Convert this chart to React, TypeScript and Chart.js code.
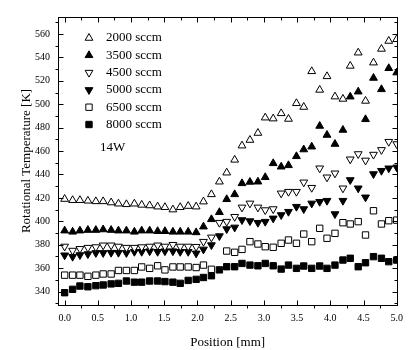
import React, { useEffect, useRef } from "react";
import { Chart, registerables } from "chart.js";

Chart.register(...registerables);

// Position along the axis [mm]
const positions = [
  0, 0.12, 0.23, 0.35, 0.47, 0.58, 0.7, 0.81, 0.93, 1.05, 1.16, 1.28, 1.4, 1.51, 1.63,
  1.74, 1.86, 1.98, 2.09, 2.21, 2.33, 2.44, 2.56, 2.67, 2.79, 2.91, 3.02, 3.14, 3.26,
  3.37, 3.49, 3.6, 3.72, 3.84, 3.95, 4.07, 4.19, 4.3, 4.42, 4.53, 4.65, 4.77, 4.88, 5.0,
];

// Rotational temperature [K] per flow rate
const flow2000 = [
  419, 418, 418, 417.5, 417, 417, 416, 415, 414.5, 415, 414, 413.5, 412.5, 412, 410, 412,
  413, 412.5, 416.8, 423, 433.8, 441.5, 452.5, 464.6, 469.4, 475.4, 488.5, 487.7, 492.2,
  487.4, 500.8, 497.6, 528.1, 512.2, 523.8, 506.5, 504.5, 532.7, 544, 502.8, 535.5, 547.2,
  554, 555.5,
];
const flow3500 = [
  392, 391, 392, 392.5, 392.5, 393, 392.5, 392, 392, 391, 392, 392, 391.5, 391.5, 391, 391,
  391, 390.5, 395.4, 401.7, 407.7, 418.8, 423, 432.4, 433.6, 433.8, 437.6, 449.5, 446.6,
  447.8, 455.5, 461.3, 463.7, 481.4, 473.7, 466, 478, 506.4, 510.7, 487.1, 522.4, 512.7,
  530.7, 527,
];
const flow4500 = [
  378.5, 375, 376.5, 377.5, 378, 379.5, 379.5, 378.5, 377.5, 377.5, 378, 378.5, 379.5,
  378.5, 380, 378.5, 378.5, 378.3, 382.6, 386.3, 398.8, 399.7, 403.9, 411.9, 415.3, 411.9,
  409.6, 410.5, 423.9, 425.3, 425.3, 433.3, 428.7, 445.3, 437.6, 441, 428.2, 453, 457.5,
  452, 457, 461, 468, 466,
];
const flow5000 = [
  371, 369.8, 371.2, 372, 373, 373, 373.2, 373.2, 373, 374, 374, 374.5, 374, 374.5, 374.5,
  374, 374, 372.6, 376, 379.7, 387.4, 393.4, 394.8, 401.1, 400.2, 398.8, 399.7, 402.5,
  405.4, 408.2, 412.5, 410.5, 415.3, 416.7, 417.6, 406.2, 417.6, 435.3, 428.2, 420.5,
  440.4, 443.2, 445.3, 446.1,
];
const flow6500 = [
  354, 354, 354, 353, 354, 355, 355, 358, 358, 358, 361, 359.8, 362, 358.5, 361, 361, 361,
  360.5, 362.6, 359, null, 374.6, 373.5, 376, 382.6, 380.6, 378.3, 377.8, 381.2, 384,
  381.2, 389.1, 382.6, 394, 385.5, 389.7, 398.8, 397.7, 399.7, 388.3, 409, 397.7, 400.5,
  401,
];
const flow8000 = [
  339, 341.9, 344.7, 344.1, 345, 345.6, 346.5, 347, 349, 348, 348, 349, 349, 348.5, 348,
  347, 349.5, 350.4, 352, 353.5, 358.5, 361.2, 361.2, 364, 362.6, 362, 364, 362, 359.2,
  362.6, 359.8, 361.8, 359.8, 361.8, 359.8, 362.6, 366.9, 368.4, 361.2, 364.6, 369.8,
  368.4, 365.5, 366.9,
];

const seriesLabels = ["2000 sccm", "3500 sccm", "4500 sccm", "5000 sccm", "6500 sccm", "8000 sccm"];
const yTickValues = [340, 360, 380, 400, 420, 440, 460, 480, 500, 520, 540, 560];
const yMinorValues = [330, 350, 370, 390, 410, 430, 450, 470, 490, 510, 530, 550, 570];
const xTickValues = [0, 0.5, 1, 1.5, 2, 2.5, 3, 3.5, 4, 4.5, 5];
const xMinorValues = [0.25, 0.75, 1.25, 1.75, 2.25, 2.75, 3.25, 3.75, 4.25, 4.75];
const powerLabel = "14W";
const xTitle = "Position [mm]";
const yTitle = "Rotational Temperature [K]";

const FONT = "'Liberation Serif', 'Times New Roman', serif";

type Marker = { style: string; rotation: number; filled: boolean };
const markers: Marker[] = [
  { style: "triangle", rotation: 0, filled: false },
  { style: "triangle", rotation: 0, filled: true },
  { style: "triangle", rotation: 180, filled: false },
  { style: "triangle", rotation: 180, filled: true },
  { style: "rect", rotation: 0, filled: false },
  { style: "rect", rotation: 0, filled: true },
];
const allSeries = [flow2000, flow3500, flow4500, flow5000, flow6500, flow8000];
const R = 4.5;

function drawMarker(ctx: CanvasRenderingContext2D, m: Marker, x: number, y: number) {
  ctx.save();
  ctx.beginPath();
  if (m.style === "triangle") {
    let rad = (m.rotation * Math.PI) / 180;
    ctx.moveTo(x + Math.sin(rad) * R, y - Math.cos(rad) * R);
    rad += (2 * Math.PI) / 3;
    ctx.lineTo(x + Math.sin(rad) * R, y - Math.cos(rad) * R);
    rad += (2 * Math.PI) / 3;
    ctx.lineTo(x + Math.sin(rad) * R, y - Math.cos(rad) * R);
    ctx.closePath();
  } else {
    const s = Math.SQRT1_2 * R;
    ctx.rect(x - s, y - s, 2 * s, 2 * s);
  }
  ctx.fillStyle = m.filled ? "#000" : "#fff";
  ctx.strokeStyle = "#000";
  ctx.lineWidth = 1;
  ctx.fill();
  ctx.stroke();
  ctx.restore();
}

const framePlugin = {
  id: "frameTicks",
  afterDraw(chart: any) {
    const ctx: CanvasRenderingContext2D = chart.ctx;
    const { left, right, top, bottom } = chart.chartArea;
    const xs = chart.scales.x;
    const ys = chart.scales.y;
    ctx.save();
    ctx.strokeStyle = "#000";
    ctx.lineWidth = 1;
    ctx.strokeRect(Math.round(left) + 0.5, Math.round(top) + 0.5, Math.round(right - left), Math.round(bottom - top));
    ctx.beginPath();
    const L = Math.round(left) + 0.5;
    const Rr = Math.round(right) + 0.5;
    const T = Math.round(top) + 0.5;
    const B = Math.round(bottom) + 0.5;
    yTickValues.forEach((v) => {
      const p = Math.round(ys.getPixelForValue(v)) + 0.5;
      ctx.moveTo(L, p); ctx.lineTo(L + 5, p);
      ctx.moveTo(Rr, p); ctx.lineTo(Rr - 5, p);
    });
    yMinorValues.forEach((v) => {
      const p = Math.round(ys.getPixelForValue(v)) + 0.5;
      if (p < T || p > B) return;
      ctx.moveTo(L, p); ctx.lineTo(L - 3, p);
      ctx.moveTo(Rr, p); ctx.lineTo(Rr - 3, p);
    });
    xTickValues.forEach((v) => {
      const p = Math.round(xs.getPixelForValue(v)) + 0.5;
      ctx.moveTo(p, B); ctx.lineTo(p, B - 5);
      ctx.moveTo(p, T); ctx.lineTo(p, T + 5);
    });
    xMinorValues.forEach((v) => {
      const p = Math.round(xs.getPixelForValue(v)) + 0.5;
      ctx.moveTo(p, B); ctx.lineTo(p, B + 3);
      ctx.moveTo(p, T); ctx.lineTo(p, T + 3);
    });
    ctx.stroke();

    // legend
    ctx.font = `13px ${FONT}`;
    ctx.fillStyle = "#000";
    ctx.textBaseline = "middle";
    ctx.textAlign = "left";
    seriesLabels.forEach((lab, i) => {
      const y = 38 + i * 17.3;
      drawMarker(ctx, markers[i], 89, y);
      ctx.fillStyle = "#000";
      ctx.fillText(lab, 106, y);
    });
    ctx.fillText(powerLabel, 100, 148);
    ctx.restore();
  },
};

export default function App() {
  const ref = useRef<HTMLCanvasElement | null>(null);
  useEffect(() => {
    document.body.style.margin = "0";
    const canvas = ref.current;
    if (!canvas) return;
    const datasets = allSeries.map((vals, i) => ({
      label: seriesLabels[i],
      data: positions.map((x, j) => ({ x, y: vals[j] })),
      showLine: false,
      pointStyle: markers[i].style,
      rotation: markers[i].rotation,
      pointRadius: R,
      pointBorderWidth: 1,
      pointBackgroundColor: markers[i].filled ? "#000" : "#fff",
      pointBorderColor: "#000",
      backgroundColor: markers[i].filled ? "#000" : "#fff",
      borderColor: "#000",
    }));
    const chart = new Chart(canvas, {
      type: "scatter",
      data: { datasets: datasets as any },
      options: {
        animation: false,
        responsive: false,
        events: [],
        layout: { padding: { top: 17, right: 7, left: 0, bottom: 0 } },
        plugins: { legend: { display: false }, tooltip: { enabled: false } },
        scales: {
          x: {
            type: "linear",
            min: -0.1,
            max: 5.01,
            afterFit: (s: any) => { s.height = 45; },
            afterBuildTicks: (s: any) => { s.ticks = xTickValues.map((v) => ({ value: v })); },
            grid: { display: false, drawTicks: false },
            border: { display: false },
            ticks: {
              padding: 7,
              color: "#000",
              font: { family: FONT, size: 10 },
              callback: (v: any) => Number(v).toFixed(1),
              maxRotation: 0,
              autoSkip: false,
            },
            title: {
              display: true,
              text: xTitle,
              color: "#000",
              font: { family: FONT, size: 13 },
              padding: { top: 0, bottom: 0 },
            },
          },
          y: {
            type: "linear",
            min: 328.5,
            max: 574.5,
            afterFit: (s: any) => { s.width = 58; },
            afterBuildTicks: (s: any) => { s.ticks = yTickValues.map((v) => ({ value: v })); },
            grid: { display: false, drawTicks: false },
            border: { display: false },
            ticks: {
              padding: 8,
              color: "#000",
              font: { family: FONT, size: 10 },
              autoSkip: false,
            },
            title: {
              display: true,
              text: yTitle,
              color: "#000",
              font: { family: FONT, size: 13 },
              padding: { top: 19, bottom: 0 },
            },
          },
        },
      },
      plugins: [framePlugin],
    });
    return () => chart.destroy();
  }, []);
  return (
    <div style={{ position: "absolute", left: 0, top: 0, width: 410, height: 350, background: "#fff" }}>
      <canvas ref={ref} width={410} height={350} />
    </div>
  );
}
